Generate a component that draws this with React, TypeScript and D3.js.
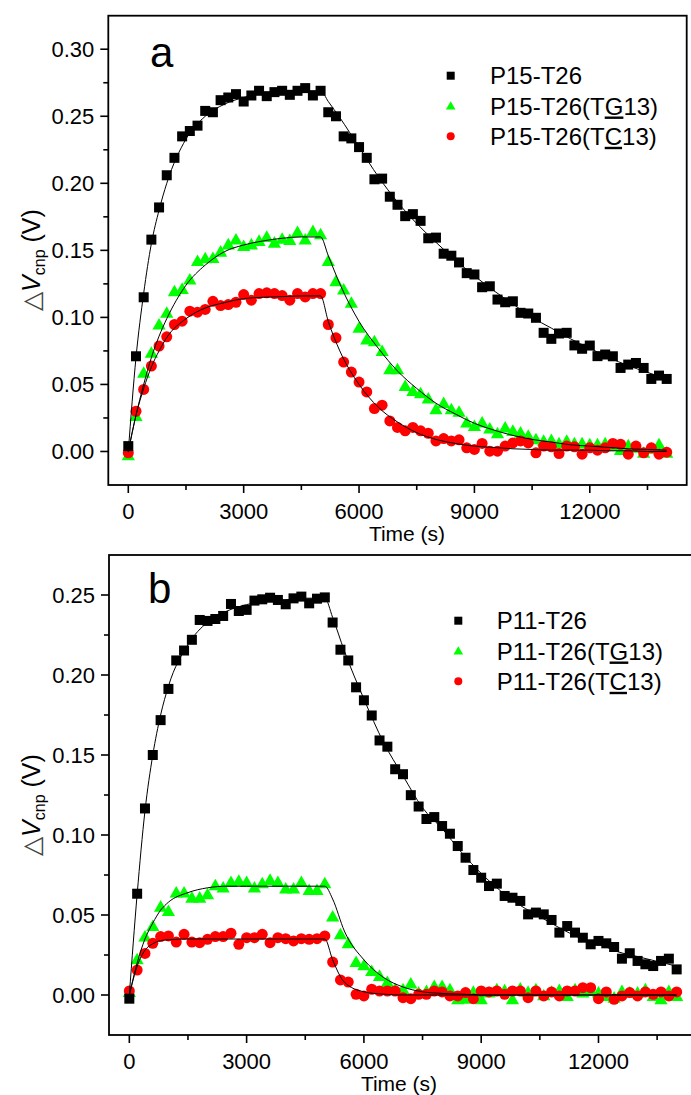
import React from "react";
import * as d3 from "d3";

// ---------- DATA ----------
const TIME = [0,200,400,600,800,1000,1200,1400,1600,1800,2000,2200,2400,2600,2800,3000,3200,3400,3600,3800,4000,4200,4400,4600,4800,5000,5200,5400,5600,5800,6000,6200,6400,6600,6800,7000,7200,7400,7600,7800,8000,8200,8400,8600,8800,9000,9200,9400,9600,9800,10000,10200,10400,10600,10800,11000,11200,11400,11600,11800,12000,12200,12400,12600,12800,13000,13200,13400,13600,13800,14000];

const P15_T26 = [0.004,0.071,0.115,0.158,0.182,0.206,0.219,0.235,0.239,0.243,0.254,0.253,0.262,0.264,0.2665,0.261,0.2655,0.269,0.265,0.268,0.269,0.266,0.269,0.271,0.2655,0.269,0.253,0.25,0.235,0.2335,0.227,0.219,0.203,0.2035,0.19,0.184,0.1755,0.177,0.172,0.159,0.1595,0.1475,0.146,0.141,0.133,0.132,0.1225,0.1232,0.1133,0.1113,0.112,0.1034,0.1029,0.0997,0.0885,0.084,0.088,0.0885,0.0791,0.0766,0.079,0.0711,0.0723,0.071,0.0623,0.0648,0.066,0.0623,0.0541,0.0566,0.0541];
const P15_T26_TG13 = [-0.0028,0.0265,0.0587,0.0736,0.0947,0.1034,0.1195,0.1212,0.1282,0.142,0.144,0.1443,0.149,0.1544,0.158,0.1532,0.1544,0.157,0.16,0.1557,0.1586,0.1577,0.1636,0.158,0.1643,0.1619,0.142,0.127,0.1207,0.1108,0.0922,0.0835,0.0822,0.0749,0.0612,0.0612,0.0488,0.0451,0.0434,0.0394,0.0315,0.036,0.0315,0.0295,0.0216,0.019,0.0216,0.0171,0.0136,0.0178,0.0153,0.014,0.0116,0.0091,0.0079,0.0084,0.006,0.0079,0.006,0.006,0.0054,0.0054,0.006,0.004,0.001,0.0045,0.0027,-0.001,0.002,0.0054,-0.001];
const P15_T26_TC13 = [-0.001,0.03,0.0463,0.0637,0.0786,0.0855,0.0947,0.0972,0.1046,0.1039,0.1059,0.112,0.1088,0.1096,0.1113,0.117,0.1128,0.1178,0.1183,0.1178,0.1163,0.1128,0.1178,0.1153,0.1178,0.1178,0.0947,0.0848,0.0667,0.0592,0.0518,0.0444,0.032,0.0345,0.0228,0.0179,0.0154,0.0179,0.0154,0.0136,0.0079,0.0096,0.0079,0.0087,0.0027,0.0015,0.006,0.0002,0.0002,0.004,0.0064,0.0079,0.0064,-0.001,0.004,0.0035,-0.0015,0.004,0.0035,-0.002,0.0027,0.001,0.0027,0.006,0.0054,-0.002,0.004,-0.001,0.0027,-0.002,-0.0005];

const P11_T26 = [-0.0023,0.0633,0.1166,0.15,0.1718,0.1913,0.2091,0.2153,0.222,0.2344,0.2338,0.235,0.2369,0.2444,0.24,0.2407,0.2465,0.2473,0.2483,0.2469,0.2442,0.2479,0.249,0.2448,0.2477,0.2485,0.2328,0.2158,0.2091,0.1923,0.1842,0.1747,0.1591,0.1552,0.1411,0.138,0.1249,0.1178,0.11,0.1112,0.1056,0.1008,0.0931,0.0858,0.0781,0.0733,0.0681,0.0696,0.0619,0.0608,0.0588,0.0504,0.0515,0.0504,0.0469,0.039,0.0431,0.039,0.0358,0.0317,0.0338,0.0323,0.03,0.0227,0.0261,0.0213,0.0192,0.0181,0.0213,0.0227,0.016];
const P11_T26_TG13 = [0.0019,0.0223,0.0365,0.0431,0.0552,0.0525,0.064,0.064,0.0608,0.0608,0.0629,0.0685,0.0671,0.0706,0.0713,0.0706,0.0671,0.0698,0.0719,0.0706,0.0665,0.0665,0.0706,0.0656,0.0656,0.0698,0.049,0.0379,0.0323,0.0206,0.0186,0.015,0.0119,0.0081,0.0036,0.0036,0.0071,0.0015,0.0025,0.0056,0.0056,0.0035,-0.0027,-0.0023,0.0019,-0.0027,0.0015,0.0035,0.0029,-0.0027,0.004,0.0019,0.0035,-0.0002,0.0019,0.0031,-0.0006,0.0035,0.0015,0.0025,0.0015,-0.0006,-0.0017,0.0025,0.0015,0.0015,0.0035,-0.0006,-0.0027,0.0025,-0.0006];
const P11_T26_TC13 = [0.0025,0.0156,0.026,0.0323,0.0365,0.0369,0.0331,0.0379,0.0331,0.0327,0.0348,0.0365,0.0365,0.0386,0.0317,0.0358,0.0358,0.0379,0.0327,0.0358,0.0352,0.0338,0.0352,0.0348,0.0352,0.0369,0.0206,0.0094,0.0081,0.0004,-0.0006,0.0036,0.0025,0.0025,0.0025,-0.0017,-0.0023,0.0004,0.0004,0.0025,0.0019,-0.0006,-0.0006,0.0015,-0.0023,0.0025,0.0019,0.0025,0.0004,0.0025,0.0025,-0.0017,0.0025,-0.0006,0.0019,-0.0006,0.0025,0.0025,0.0046,0.0046,-0.0023,0.0019,-0.0027,-0.0006,0.0015,-0.0006,0.0019,0.0004,0.0019,-0.0006,0.0019];

// fitted curves
const FIT_T = [0,200,400,600,800,1000,1500,2000,2500,3000,3500,4000,4500,5000,5200,5500,6000,6500,7000,7500,8000,8500,9000,9500,10000,10500,11000,11500,12000,12500,13000,13500,14000];
const FIT_P15_T26 = [0,0.07,0.118,0.155,0.18,0.2,0.233,0.25,0.259,0.264,0.267,0.268,0.269,0.269,0.261,0.249,0.227,0.205,0.186,0.17,0.156,0.143,0.131,0.12,0.11,0.1,0.092,0.084,0.077,0.07,0.064,0.059,0.054];
const FIT_P15_TG = [0,0.027,0.05,0.07,0.086,0.099,0.124,0.139,0.149,0.154,0.157,0.159,0.16,0.16,0.146,0.125,0.097,0.077,0.06,0.047,0.036,0.028,0.021,0.016,0.012,0.009,0.007,0.005,0.004,0.003,0.002,0.0015,0.001];
const FIT_P15_TC = [0,0.027,0.047,0.063,0.075,0.085,0.099,0.107,0.111,0.114,0.115,0.1155,0.116,0.116,0.097,0.075,0.05,0.033,0.022,0.014,0.009,0.006,0.004,0.003,0.002,0.0015,0.001,0.001,0.001,0.0005,0.0005,0,0];
const FIT_P11_T26 = [0,0.063,0.115,0.15,0.175,0.193,0.219,0.233,0.24,0.244,0.246,0.247,0.248,0.248,0.236,0.215,0.185,0.158,0.137,0.117,0.104,0.089,0.076,0.065,0.056,0.049,0.042,0.036,0.032,0.027,0.024,0.021,0.018];
const FIT_P11_TG = [0,0.02,0.035,0.045,0.053,0.058,0.064,0.067,0.068,0.068,0.068,0.068,0.068,0.068,0.06,0.04,0.022,0.011,0.005,0.002,0.001,0.0005,0,0,0,0,0,0,0,0,0,0,0];
const FIT_P11_TC = [0,0.018,0.028,0.032,0.034,0.0345,0.035,0.035,0.035,0.035,0.035,0.035,0.035,0.035,0.022,0.008,0.002,0.0005,0,0,0,0,0,0,0,0,0,0,0,0,0,0,0];

const X_TICKS = [0, 3000, 6000, 9000, 12000];
const X_MINOR = [1500, 4500, 7500, 10500, 13500];
const Y_TICKS_A = [0, 0.05, 0.1, 0.15, 0.2, 0.25, 0.3];
const Y_TICKS_B = [0, 0.05, 0.1, 0.15, 0.2, 0.25];
const LEGEND_A = ["P15-T26", "P15-T26(T", "P15-T26(T"];
const LEGEND_B = ["P11-T26", "P11-T26(T", "P11-T26(T"];
const UNDER = ["", "G", "C"];

const FONT = "'Liberation Sans', Arial, Helvetica, sans-serif";
const GREEN = "#00ff00";
const RED = "#ff0000";

type PanelProps = {
  left: number; right: number; top: number; bottom: number;
  yDomain: [number, number]; yTicks: number[];
  series: number[][]; fits: number[][];
  letter: string; letterX: number; letterY: number;
  legend: string[]; legX: number; legY: number; legTextX: number;
  xLabelX: number; yLabelY: number;
};

function Marker({ kind, x, y, s }: { kind: number; x: number; y: number; s: number }) {
  if (kind === 0) return <rect x={x - s / 2} y={y - s / 2} width={s} height={s} fill="#000" />;
  if (kind === 1) {
    const w = s * 1.2;
    const h = s * 1.0;
    return <path d={`M${x},${y - h * 0.6}L${x + w / 2},${y + h * 0.45}L${x - w / 2},${y + h * 0.45}Z`} fill={GREEN} />;
  }
  return <circle cx={x} cy={y} r={s / 2} fill={RED} />;
}

function Panel(p: PanelProps) {
  const x = d3.scaleLinear().domain([-520, 14520]).range([p.left, p.right]);
  const y = d3.scaleLinear().domain(p.yDomain).range([p.bottom, p.top]);
  const yMinor = p.yTicks.map((t) => t + 0.025).filter((t) => t < p.yDomain[1] - 0.001);
  const line = d3.line<number>().x((_, i) => x(FIT_T[i])).y((d) => y(d)).curve(d3.curveMonotoneX);
  const order = [1, 2, 0];
  const sizes = [10, 11, 11];
  return (
    <g>
      {order.map((k) => (
        <g key={k}>
          {p.series[k].map((v, i) => (
            <Marker key={i} kind={k} x={x(TIME[i])} y={y(v)} s={sizes[k]} />
          ))}
        </g>
      ))}
      {p.fits.map((f, k) => (
        <path key={k} d={line(f) || ""} fill="none" stroke="#000" strokeWidth={1} />
      ))}
      <rect x={p.left} y={p.top} width={p.right - p.left} height={p.bottom - p.top} fill="none" stroke="#000" strokeWidth={1.8} />
      {p.yTicks.map((t) => (
        <g key={t}>
          <line x1={p.left - 8} x2={p.left} y1={y(t)} y2={y(t)} stroke="#000" strokeWidth={1.6} />
          <text x={p.left - 14} y={y(t) + 8} textAnchor="end" fontSize={22} fontFamily={FONT}>{t.toFixed(2)}</text>
        </g>
      ))}
      {yMinor.map((t) => (
        <line key={t} x1={p.left - 5} x2={p.left} y1={y(t)} y2={y(t)} stroke="#000" strokeWidth={1.6} />
      ))}
      {X_TICKS.map((t) => (
        <g key={t}>
          <line x1={x(t)} x2={x(t)} y1={p.bottom} y2={p.bottom + 8} stroke="#000" strokeWidth={1.6} />
          <text x={x(t)} y={p.bottom + 34} textAnchor="middle" fontSize={22} fontFamily={FONT}>{t}</text>
        </g>
      ))}
      {X_MINOR.map((t) => (
        <line key={t} x1={x(t)} x2={x(t)} y1={p.bottom} y2={p.bottom + 5} stroke="#000" strokeWidth={1.6} />
      ))}
      <text x={p.xLabelX} y={p.bottom + 56} textAnchor="middle" fontSize={21} fontFamily={FONT}>Time (s)</text>
      <text transform={`translate(40,${p.yLabelY}) rotate(-90)`} textAnchor="middle" fontSize={25} fontFamily={FONT}>
        <tspan fill="#444">△</tspan>
        <tspan fontStyle="italic">V</tspan>
        <tspan fontSize={16} dy={5}>cnp</tspan>
        <tspan dy={-5}> (V)</tspan>
      </text>
      <text x={p.letterX} y={p.letterY} fontSize={42} fontFamily={FONT}>{p.letter}</text>
      {p.legend.map((s, k) => (
        <g key={k}>
          <Marker kind={k} x={p.legX} y={p.legY + k * 30.3} s={8} />
          <text x={p.legTextX} y={p.legY + k * 30.3 + 8.5} fontSize={24} fontFamily={FONT}>
            {s}
            {UNDER[k] && <tspan textDecoration="underline" style={{ textDecoration: "underline" }}>{UNDER[k]}</tspan>}
            {UNDER[k] && "13)"}
          </text>
        </g>
      ))}
    </g>
  );
}

export default function App() {
  return (
    <svg width={691} height={1095} style={{ position: "absolute", left: 0, top: 0, background: "#fff" }}>
      <rect width={691} height={1095} fill="#fff" />
      <Panel
        left={108.3} right={686.7} top={15.7} bottom={485}
        yDomain={[-0.025, 0.325]} yTicks={Y_TICKS_A}
        series={[P15_T26, P15_T26_TG13, P15_T26_TC13]}
        fits={[FIT_P15_T26, FIT_P15_TG, FIT_P15_TC]}
        letter="a" letterX={150} letterY={67}
        legend={LEGEND_A} legX={450.7} legY={75.7} legTextX={490}
        xLabelX={407} yLabelY={260}
      />
      <Panel
        left={109} right={697} top={555} bottom={1035}
        yDomain={[-0.025, 0.275]} yTicks={Y_TICKS_B}
        series={[P11_T26, P11_T26_TG13, P11_T26_TC13]}
        fits={[FIT_P11_T26, FIT_P11_TG, FIT_P11_TC]}
        letter="b" letterX={148} letterY={603}
        legend={LEGEND_B} legX={458.3} legY={620.7} legTextX={496.7}
        xLabelX={399} yLabelY={805}
      />
    </svg>
  );
}
